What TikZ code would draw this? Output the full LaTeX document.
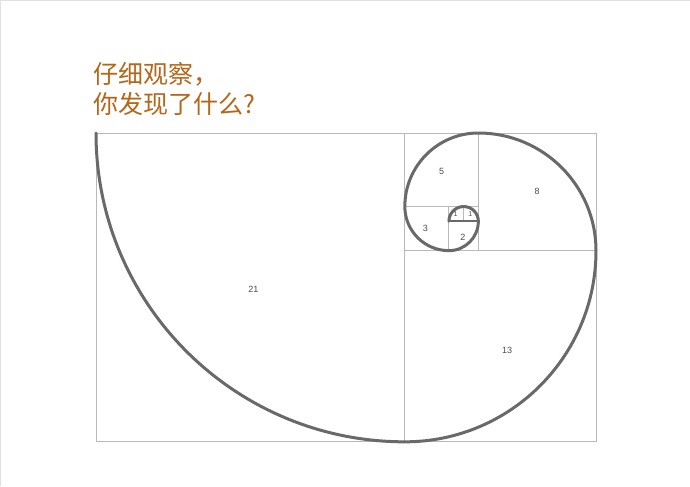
\documentclass[tikz,border=0pt]{standalone}
\usepackage{fontspec}
\setmainfont{Liberation Sans}
\newfontfamily\cjk{Noto Sans CJK SC}
\definecolor{titlecol}{RGB}{182,102,24}
\definecolor{gridcol}{RGB}{185,185,185}
\definecolor{spiralcol}{RGB}{105,105,105}
\definecolor{framecol}{RGB}{225,225,225}
\begin{document}
\begin{tikzpicture}[x=14.706pt,y=-14.706pt,
  gridline/.style={draw=gridcol,line width=0.9pt},
  spiralline/.style={draw=spiralcol,line width=3pt},
  numlabel/.style={font=\fontsize{9}{10}\selectfont,text=black!70,inner sep=0pt},
  titletext/.style={font=\cjk\fontsize{25}{30}\selectfont,text=titlecol,inner sep=0pt,anchor=base west}]
\useasboundingbox (-6.528,-9.044) rectangle (40.392,24.004);
\fill[white] (-6.528,-9.044) rectangle (40.392,24.004);
% faint image frame (top and left)
\draw[framecol,line width=1pt] (-6.5,24.004) -- (-6.5,-9.01) -- (40.392,-9.01);
% squares
\draw[gridline] (0,0) rectangle (34,21);
\draw[gridline] (21,0) -- (21,21);
\draw[gridline] (21,8) -- (34,8);
\draw[gridline] (26,0) -- (26,8);
\draw[gridline] (21,5) -- (26,5);
\draw[gridline] (24,5) -- (24,8);
\draw[gridline] (25,5) -- (25,6);
\draw[draw=spiralcol,line width=1.5pt] (24,6) -- (26,6);
% spiral
\draw[spiralline,line cap=round] (24,6)
  arc[start angle=180,end angle=360,radius=1]
  arc[start angle=0,end angle=90,radius=2]
  arc[start angle=90,end angle=180,radius=3]
  arc[start angle=180,end angle=270,radius=5]
  arc[start angle=270,end angle=360,radius=8]
  arc[start angle=0,end angle=90,radius=13]
  arc[start angle=90,end angle=180,radius=21];
% labels
\node[numlabel] (l21) at (10.7,10.65) {21};
\node[numlabel] (l13) at (27.95,14.75) {13};
\node[numlabel] (l8) at (30,4) {8};
\node[numlabel] (l5) at (23.5,2.6) {5};
\node[numlabel] (l3) at (22.4,6.5) {3};
\node[numlabel] (l2) at (24.95,7.1) {2};
\node[numlabel,font=\fontsize{7}{8}\selectfont] (l1a) at (24.45,5.5) {1};
\node[numlabel,font=\fontsize{7}{8}\selectfont] (l1b) at (25.45,5.5) {1};
% title
\node[titletext] (t1) at (-0.204,-3.40) {仔细观察，};
\node[titletext] (t2) at (-0.204,-1.36) {你发现了什么?};
\end{tikzpicture}
\end{document}
